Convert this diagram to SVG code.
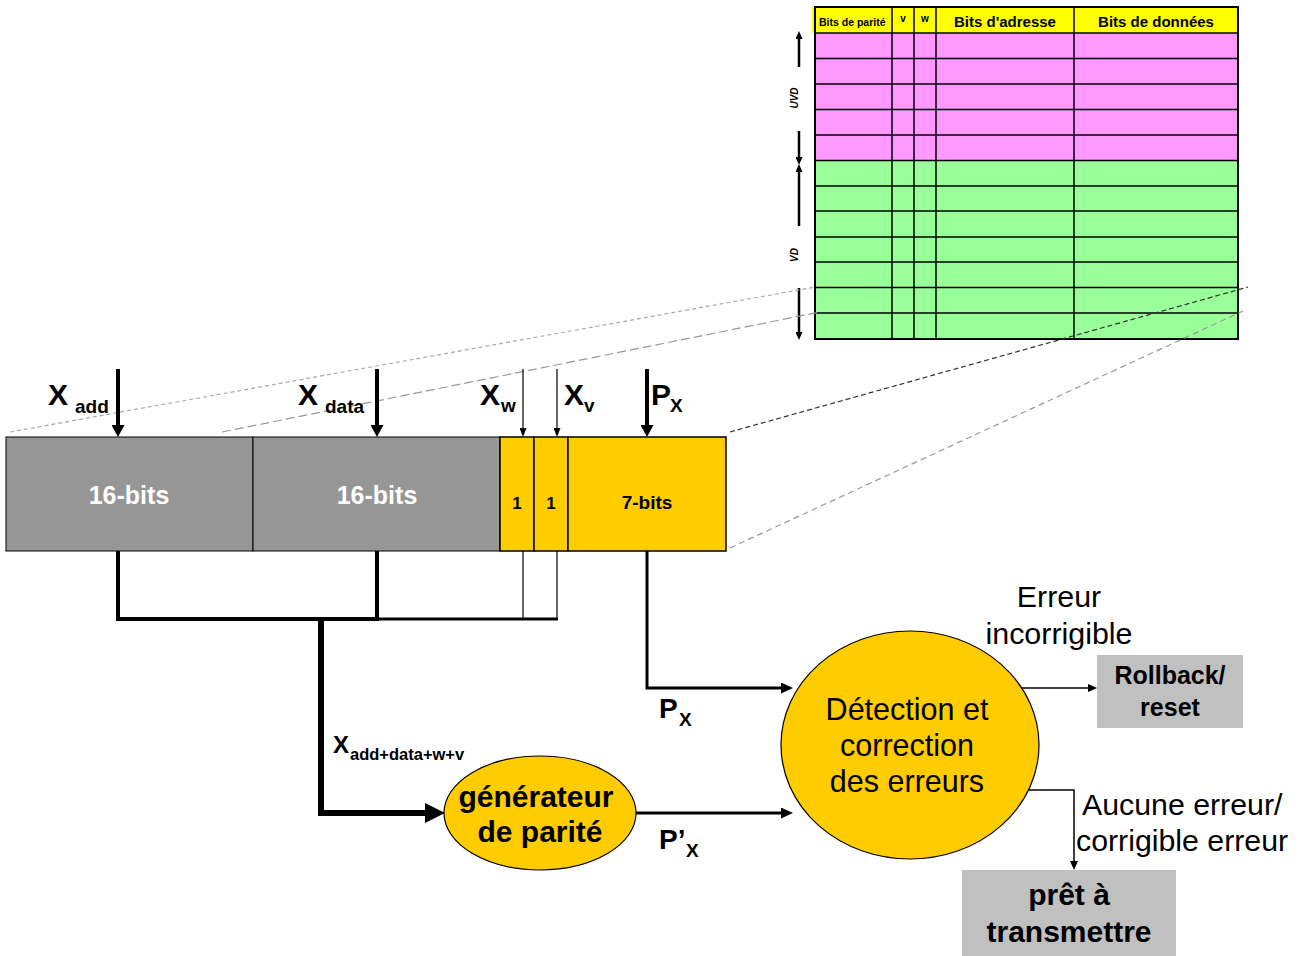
<svg xmlns="http://www.w3.org/2000/svg" width="1304" height="956" viewBox="0 0 1304 956">
<defs>
<style>
text{font-family:"Liberation Sans",Arial,sans-serif;fill:#000}
.b{font-weight:bold}
.c{text-anchor:middle}
.ln{fill:none;stroke:#000;stroke-linejoin:miter;stroke-linecap:butt}
.grid{stroke:#000;stroke-width:1.5}
.dash{fill:none}
</style>
<marker id="mThick" viewBox="0 0 12 13" refX="0" refY="6.5" markerWidth="12" markerHeight="13" orient="auto" markerUnits="userSpaceOnUse"><path d="M0,0L12,6.5L0,13z"/></marker>
<marker id="mThin" viewBox="0 0 9 7" refX="0" refY="3.5" markerWidth="9" markerHeight="7" orient="auto" markerUnits="userSpaceOnUse"><path d="M0,0L9,3.5L0,7z"/></marker>
<marker id="mMid" viewBox="0 0 12 11" refX="0" refY="5.5" markerWidth="12" markerHeight="11" orient="auto" markerUnits="userSpaceOnUse"><path d="M0,0L12,5.5L0,11z"/></marker>
<marker id="mBig" viewBox="0 0 20 20" refX="0" refY="10" markerWidth="20" markerHeight="20" orient="auto" markerUnits="userSpaceOnUse"><path d="M0,0L20,10L0,20z"/></marker>
<marker id="mSmall" viewBox="0 0 9 8" refX="0" refY="4" markerWidth="9" markerHeight="8" orient="auto" markerUnits="userSpaceOnUse"><path d="M0,0L9,4L0,8z"/></marker>
<marker id="mTbl" viewBox="0 0 8 7" refX="0" refY="3.5" markerWidth="8" markerHeight="7" orient="auto" markerUnits="userSpaceOnUse"><path d="M0,0L8,3.5L0,7z"/></marker>
</defs>
<rect width="1304" height="956" fill="#fff"/>

<!-- memory table -->
<g id="table">
<rect x="812" y="7" width="426" height="26" fill="#FFFF00"/>
<rect x="815" y="33" width="423" height="127" fill="#FF99FF"/>
<rect x="815" y="160" width="423" height="179" fill="#99FF99"/>
<g class="grid">
<line x1="815" y1="33" x2="1238" y2="33"/>
<line x1="815" y1="58.5" x2="1238" y2="58.5"/>
<line x1="815" y1="84" x2="1238" y2="84"/>
<line x1="815" y1="109.5" x2="1238" y2="109.5"/>
<line x1="815" y1="135" x2="1238" y2="135"/>
<line x1="815" y1="160.5" x2="1238" y2="160.5"/>
<line x1="815" y1="186" x2="1238" y2="186"/>
<line x1="815" y1="211" x2="1238" y2="211"/>
<line x1="815" y1="237" x2="1238" y2="237"/>
<line x1="815" y1="262" x2="1238" y2="262"/>
<line x1="815" y1="287.5" x2="1238" y2="287.5"/>
<line x1="815" y1="313" x2="1238" y2="313"/>
<line x1="892" y1="7" x2="892" y2="339"/>
<line x1="914" y1="7" x2="914" y2="339"/>
<line x1="936" y1="7" x2="936" y2="339"/>
<line x1="1074" y1="7" x2="1074" y2="339"/>
</g>
<rect x="815" y="7" width="423" height="332" fill="none" stroke="#000" stroke-width="2"/>
<text class="b" x="819" y="26" font-size="10.5">Bits de parité</text>
<text class="b c" x="903" y="22" font-size="10">v</text>
<text class="b c" x="925" y="22" font-size="10">w</text>
<text class="b c" x="1005" y="27" font-size="15">Bits d'adresse</text>
<text class="b c" x="1156" y="27" font-size="15">Bits de données</text>
<text class="b c" font-size="10" font-style="italic" transform="translate(798,98) rotate(-90)">UVD</text>
<text class="b c" font-size="10" font-style="italic" transform="translate(798,255) rotate(-90)">VD</text>
<g stroke="#000" stroke-width="2.5">
<line x1="799" y1="67" x2="799" y2="39" marker-end="url(#mTbl)"/>
<line x1="799" y1="131" x2="799" y2="157" marker-end="url(#mTbl)"/>
<line x1="799" y1="226" x2="799" y2="172" marker-end="url(#mTbl)"/>
<line x1="799" y1="288" x2="799" y2="332" marker-end="url(#mTbl)"/>
</g>
</g>

<!-- projection dashed lines -->
<g id="projection" class="dash">
<line x1="10" y1="432" x2="815" y2="287" stroke="#aaaaaa" stroke-width="1.2" stroke-dasharray="4,3"/>
<line x1="222" y1="432" x2="820" y2="312" stroke="#999999" stroke-width="1.2" stroke-dasharray="9,4"/>
<line x1="730" y1="432" x2="1248" y2="287" stroke="#333333" stroke-width="1.2" stroke-dasharray="5,3"/>
<line x1="730" y1="548" x2="1243" y2="311" stroke="#999999" stroke-width="1.2" stroke-dasharray="6,4"/>
</g>

<!-- word bar -->
<g id="word">
<rect x="6" y="437" width="247" height="114" fill="#969696" stroke="#000" stroke-width="1"/>
<rect x="253" y="437" width="247" height="114" fill="#969696" stroke="#000" stroke-width="1"/>
<rect x="500" y="437" width="34" height="114" fill="#FFCC00" stroke="#000" stroke-width="1.5"/>
<rect x="534" y="437" width="34" height="114" fill="#FFCC00" stroke="#000" stroke-width="1.5"/>
<rect x="568" y="437" width="158" height="114" fill="#FFCC00" stroke="#000" stroke-width="1.5"/>
<text class="b c" x="129" y="504" font-size="25" style="fill:#fff">16-bits</text>
<text class="b c" x="377" y="504" font-size="25" style="fill:#fff">16-bits</text>
<text class="b c" x="517" y="509" font-size="17">1</text>
<text class="b c" x="551" y="509" font-size="17">1</text>
<text class="b c" x="647" y="509" font-size="19">7-bits</text>
</g>

<!-- input labels -->
<g id="labels">
<text class="b" x="48" y="405" font-size="30">X</text>
<text class="b" x="75" y="413" font-size="19">add</text>
<text class="b" x="298" y="405" font-size="30">X</text>
<text class="b" x="325" y="413" font-size="19">data</text>
<text class="b" x="480" y="405" font-size="30">X</text>
<text class="b" x="501" y="412" font-size="19">w</text>
<text class="b" x="564" y="405" font-size="30">X</text>
<text class="b" x="584" y="412" font-size="19">v</text>
<text class="b" x="651" y="405" font-size="30">P</text>
<text class="b" x="670" y="412" font-size="19">X</text>
<text class="b" x="333" y="753" font-size="24">X</text>
<text class="b" x="350" y="760" font-size="16.5">add+data+w+v</text>
<text class="b" x="659" y="718" font-size="28">P</text>
<text class="b" x="679" y="726" font-size="19">X</text>
<text class="b" x="659" y="849" font-size="28">P’</text>
<text class="b" x="686" y="857" font-size="19">X</text>
<text class="c" x="1059" y="607" font-size="30.4">Erreur</text>
<text class="c" x="1059" y="644" font-size="30.4">incorrigible</text>
<text x="1082" y="815" font-size="30.3">Aucune erreur/</text>
<text x="1076" y="851" font-size="30.3">corrigible erreur</text>
</g>

<!-- connectors -->
<g id="connectors">
<g class="ln" stroke-width="4">
<line x1="118" y1="369" x2="118" y2="425" marker-end="url(#mThick)"/>
<line x1="377" y1="369" x2="377" y2="425" marker-end="url(#mThick)"/>
<line x1="647" y1="369" x2="647" y2="425" marker-end="url(#mThick)"/>
<path d="M118,551V619H377"/>
<line x1="377" y1="551" x2="377" y2="621"/>
</g>
<g class="ln" stroke-width="1.2">
<line x1="523" y1="369" x2="523" y2="428" marker-end="url(#mThin)"/>
<line x1="557" y1="369" x2="557" y2="428" marker-end="url(#mThin)"/>
<line x1="523" y1="551" x2="523" y2="619"/>
<line x1="557" y1="551" x2="557" y2="620"/>
</g>
<line class="ln" x1="377" y1="619" x2="558" y2="619" stroke-width="3"/>
<path class="ln" d="M321,619V813H425" stroke-width="6" marker-end="url(#mBig)"/>
<path class="ln" d="M647,551V688H781" stroke-width="3" marker-end="url(#mMid)"/>
<line class="ln" x1="636" y1="813" x2="781" y2="813" stroke-width="3" marker-end="url(#mMid)"/>
<line class="ln" x1="1022" y1="688" x2="1088" y2="688" stroke-width="1.5" marker-end="url(#mSmall)"/>
<path class="ln" d="M1029,790H1074V861" stroke-width="1.5" marker-end="url(#mSmall)"/>
</g>

<!-- parity generator -->
<g id="generator">
<ellipse cx="540" cy="813" rx="96" ry="57" fill="#FFCC00" stroke="#000" stroke-width="1.2"/>
<text class="b c" x="536" y="807" font-size="30">générateur</text>
<text class="b c" x="540" y="842" font-size="30">de parité</text>
</g>

<!-- detection -->
<g id="detection">
<ellipse cx="910" cy="745" rx="129" ry="114" fill="#FFCC00" stroke="#000" stroke-width="1.2"/>
<text class="c" x="907" y="720" font-size="30.5">Détection et</text>
<text class="c" x="907" y="756" font-size="30.5">correction</text>
<text class="c" x="907" y="792" font-size="30.5">des erreurs</text>
</g>

<g id="rollback">
<rect x="1097" y="655" width="146" height="73" fill="#C0C0C0"/>
<text class="b c" x="1170" y="684" font-size="25">Rollback/</text>
<text class="b c" x="1170" y="716" font-size="25">reset</text>
</g>

<g id="transmit">
<rect x="962" y="870" width="214" height="86" fill="#C0C0C0"/>
<text class="b c" x="1069" y="905" font-size="30">prêt à</text>
<text class="b c" x="1069" y="942" font-size="30">transmettre</text>
</g>
</svg>
